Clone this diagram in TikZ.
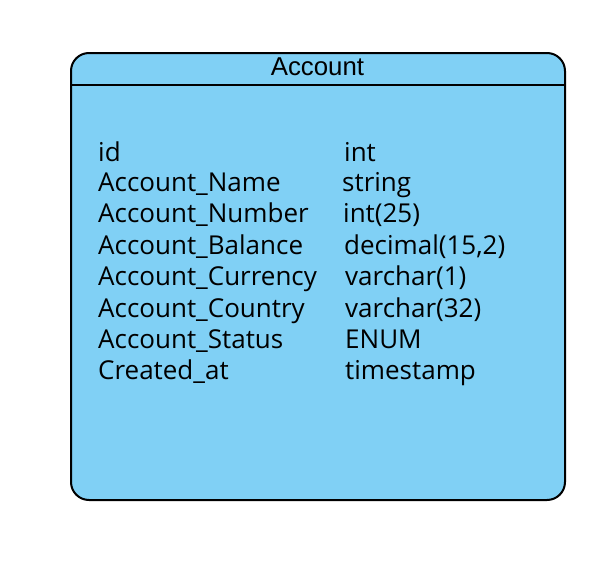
\documentclass[tikz,border=0pt]{standalone}
\usepackage{fontspec}
\setmainfont{Open Sans}
\newfontfamily\titlefont{Liberation Sans}
\definecolor{boxfill}{RGB}{128,208,245}
\begin{document}
\begin{tikzpicture}[x=1pt,y=-1pt,
  fieldtext/.style={anchor=base west,inner sep=0pt,font=\fontsize{26}{30}\selectfont},
  titletext/.style={anchor=base,inner sep=0pt,font=\titlefont\fontsize{25.8}{28}\selectfont}]
\useasboundingbox (0,0) rectangle (614,570);
\draw[line width=2pt,fill=boxfill,rounded corners=18pt] (71,53) rectangle (565,500);
\draw[line width=2pt] (71,85) -- (565,85);
\node[titletext] (title) at (317.5,75.5) {Account};
\node[fieldtext] (n1) at (98,161) {id};
\node[fieldtext] (n2) at (98,191) {Account\_Name};
\node[fieldtext] (n3) at (98,222) {Account\_Number};
\node[fieldtext] (n4) at (98,254) {Account\_Balance};
\node[fieldtext] (n5) at (98,285) {Account\_Currency};
\node[fieldtext] (n6) at (98,317) {Account\_Country};
\node[fieldtext] (n7) at (98,348) {Account\_Status};
\node[fieldtext] (n8) at (98,379) {Created\_at};
\node[fieldtext] (t1) at (344,161) {int};
\node[fieldtext] (t2) at (342,191) {string};
\node[fieldtext] (t3) at (343,222) {int(25)};
\node[fieldtext] (t4) at (344,254) {decimal(15,2)};
\node[fieldtext] (t5) at (345,285) {varchar(1)};
\node[fieldtext] (t6) at (345,317) {varchar(32)};
\node[fieldtext] (t7) at (345,348) {ENUM};
\node[fieldtext] (t8) at (345,379) {timestamp};
\end{tikzpicture}
\end{document}
